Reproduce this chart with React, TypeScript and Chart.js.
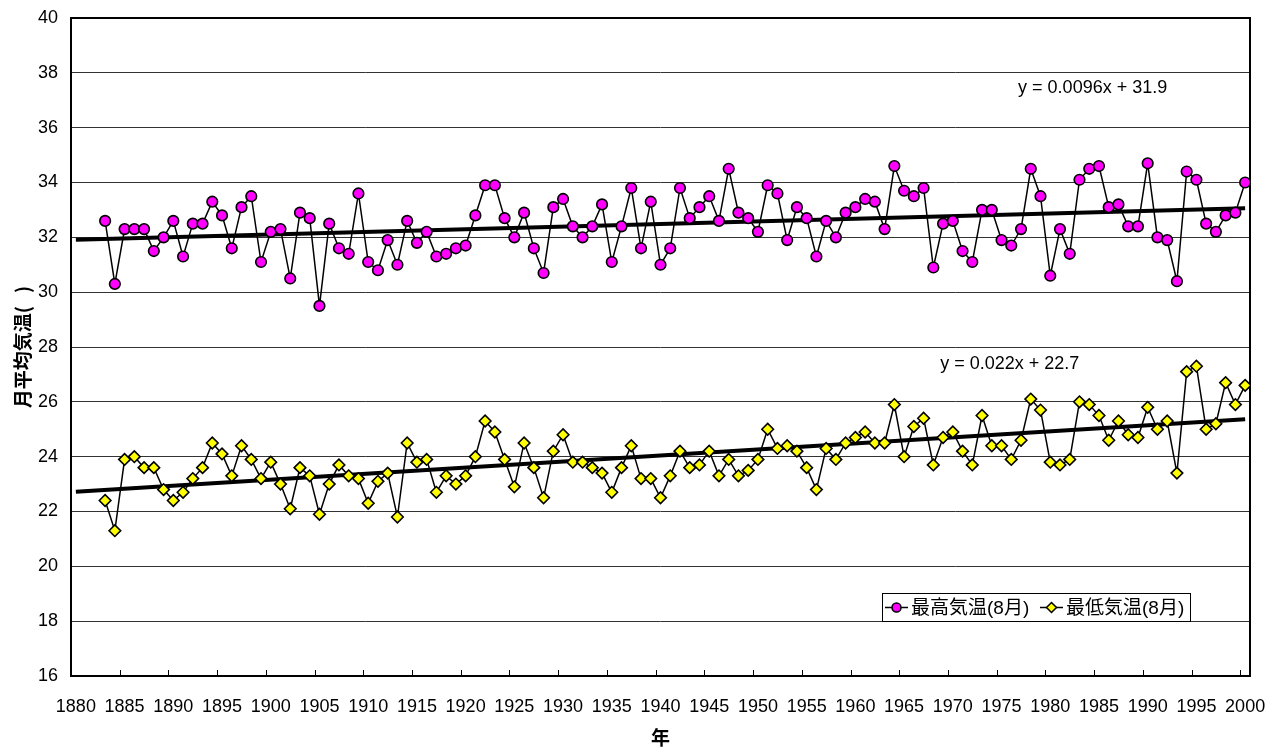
import React, { useEffect, useRef } from "react";
import { Chart, registerables } from "chart.js";

Chart.register(...registerables);

const years = [
  1883, 1884, 1885, 1886, 1887, 1888, 1889, 1890, 1891, 1892, 1893, 1894, 1895, 1896, 1897, 1898, 1899, 1900,
  1901, 1902, 1903, 1904, 1905, 1906, 1907, 1908, 1909, 1910, 1911, 1912, 1913, 1914, 1915, 1916, 1917, 1918,
  1919, 1920, 1921, 1922, 1923, 1924, 1925, 1926, 1927, 1928, 1929, 1930, 1931, 1932, 1933, 1934, 1935, 1936,
  1937, 1938, 1939, 1940, 1941, 1942, 1943, 1944, 1945, 1946, 1947, 1948, 1949, 1950, 1951, 1952, 1953, 1954,
  1955, 1956, 1957, 1958, 1959, 1960, 1961, 1962, 1963, 1964, 1965, 1966, 1967, 1968, 1969, 1970, 1971, 1972,
  1973, 1974, 1975, 1976, 1977, 1978, 1979, 1980, 1981, 1982, 1983, 1984, 1985, 1986, 1987, 1988, 1989, 1990,
  1991, 1992, 1993, 1994, 1995, 1996, 1997, 1998, 1999, 2000,
];

const maxTemp = [
  32.6, 30.3, 32.3, 32.3, 32.3, 31.5, 32.0, 32.6, 31.3, 32.5, 32.5, 33.3, 32.8, 31.6, 33.1, 33.5, 31.1, 32.2,
  32.3, 30.5, 32.9, 32.7, 29.5, 32.5, 31.6, 31.4, 33.6, 31.1, 30.8, 31.9, 31.0, 32.6, 31.8, 32.2, 31.3, 31.4,
  31.6, 31.7, 32.8, 33.9, 33.9, 32.7, 32.0, 32.9, 31.6, 30.7, 33.1, 33.4, 32.4, 32.0, 32.4, 33.2, 31.1, 32.4,
  33.8, 31.6, 33.3, 31.0, 31.6, 33.8, 32.7, 33.1, 33.5, 32.6, 34.5, 32.9, 32.7, 32.2, 33.9, 33.6, 31.9, 33.1,
  32.7, 31.3, 32.6, 32.0, 32.9, 33.1, 33.4, 33.3, 32.3, 34.6, 33.7, 33.5, 33.8, 30.9, 32.5, 32.6, 31.5, 31.1,
  33.0, 33.0, 31.9, 31.7, 32.3, 34.5, 33.5, 30.6, 32.3, 31.4, 34.1, 34.5, 34.6, 33.1, 33.2, 32.4, 32.4, 34.7,
  32.0, 31.9, 30.4, 34.4, 34.1, 32.5, 32.2, 32.8, 32.9, 34.0,
];

const minTemp = [
  22.4, 21.3, 23.9, 24.0, 23.6, 23.6, 22.8, 22.4, 22.7, 23.2, 23.6, 24.5, 24.1, 23.3, 24.4, 23.9, 23.2, 23.8,
  23.0, 22.1, 23.6, 23.3, 21.9, 23.0, 23.7, 23.3, 23.2, 22.3, 23.1, 23.4, 21.8, 24.5, 23.8, 23.9, 22.7, 23.3,
  23.0, 23.3, 24.0, 25.3, 24.9, 23.9, 22.9, 24.5, 23.6, 22.5, 24.2, 24.8, 23.8, 23.8, 23.6, 23.4, 22.7, 23.6,
  24.4, 23.2, 23.2, 22.5, 23.3, 24.2, 23.6, 23.7, 24.2, 23.3, 23.9, 23.3, 23.5, 23.9, 25.0, 24.3, 24.4, 24.2,
  23.6, 22.8, 24.3, 23.9, 24.5, 24.7, 24.9, 24.5, 24.5, 25.9, 24.0, 25.1, 25.4, 23.7, 24.7, 24.9, 24.2, 23.7,
  25.5, 24.4, 24.4, 23.9, 24.6, 26.1, 25.7, 23.8, 23.7, 23.9, 26.0, 25.9, 25.5, 24.6, 25.3, 24.8, 24.7, 25.8,
  25.0, 25.3, 23.4, 27.1, 27.3, 25.0, 25.2, 26.7, 25.9, 26.6,
];

const xTickYears = [
  1880, 1885, 1890, 1895, 1900, 1905, 1910, 1915, 1920, 1925, 1930, 1935, 1940, 1945, 1950, 1955, 1960, 1965,
  1970, 1975, 1980, 1985, 1990, 1995, 2000,
];

const seriesNames = ["最高気温(8月)", "最低気温(8月)"];
const trendMax = { slope: 0.0096, intercept: 31.9, text: "y = 0.0096x + 31.9", atYear: 1976.7, atValue: 37.45 };
const trendMin = { slope: 0.022, intercept: 22.7, text: "y = 0.022x + 22.7", atYear: 1968.7, atValue: 27.38 };
const firstCategoryYear = 1880;
const lastCategoryYear = 2000;
const yAxisTitle = "月平均気温(   )";
const xAxisTitle = "年";

const FONT = "'Liberation Sans', Arial, 'Noto Sans CJK JP', sans-serif";

function trendPoints(t: { slope: number; intercept: number }) {
  const n = lastCategoryYear - firstCategoryYear + 1;
  return [
    { x: firstCategoryYear, y: t.intercept + t.slope * 1 },
    { x: lastCategoryYear, y: t.intercept + t.slope * n },
  ];
}

const decorPlugin = {
  id: "decor",
  beforeDatasetsDraw(chart: any) {
    const { ctx, chartArea, scales } = chart;
    const { left, right, top, bottom } = chartArea;
    ctx.save();
    ctx.strokeStyle = "#000";
    ctx.lineWidth = 1;
    for (let i = 1; i < xTickYears.length; i++) {
      const px = Math.round(scales.x.getPixelForValue(xTickYears[i] - 0.5)) + 0.5;
      ctx.beginPath();
      ctx.moveTo(px, bottom);
      ctx.lineTo(px, bottom - 6);
      ctx.stroke();
    }
    ctx.lineWidth = 2;
    ctx.strokeRect(left, top, right - left, bottom - top);
    ctx.restore();
  },
  afterDatasetsDraw(chart: any) {
    const { ctx, scales } = chart;
    ctx.save();
    ctx.fillStyle = "#000";
    ctx.font = `18px ${FONT}`;
    ctx.textAlign = "left";
    ctx.textBaseline = "middle";
    for (const t of [trendMax, trendMin]) {
      ctx.fillText(t.text, scales.x.getPixelForValue(t.atYear), scales.y.getPixelForValue(t.atValue));
    }
    const lx = 882, ly = 593, lw = 308, lh = 28;
    ctx.fillStyle = "#fff";
    ctx.fillRect(lx, ly, lw, lh);
    ctx.strokeStyle = "#000";
    ctx.lineWidth = 1;
    ctx.strokeRect(lx + 0.5, ly + 0.5, lw, lh);
    const cy = ly + lh / 2 + 0.5;
    const items = [
      { x: lx + 3, name: seriesNames[0], style: "circle", color: "#FF00FF" },
      { x: lx + 158, name: seriesNames[1], style: "diamond", color: "#FFFF00" },
    ];
    ctx.font = `19px ${FONT}`;
    for (const it of items) {
      ctx.strokeStyle = "#000";
      ctx.lineWidth = 1.5;
      ctx.beginPath();
      ctx.moveTo(it.x, cy);
      ctx.lineTo(it.x + 23, cy);
      ctx.stroke();
      const mx = it.x + 11.5;
      ctx.beginPath();
      if (it.style === "circle") {
        ctx.arc(mx, cy, 4.5, 0, Math.PI * 2);
      } else {
        ctx.moveTo(mx, cy - 5);
        ctx.lineTo(mx + 5, cy);
        ctx.lineTo(mx, cy + 5);
        ctx.lineTo(mx - 5, cy);
        ctx.closePath();
      }
      ctx.fillStyle = it.color;
      ctx.fill();
      ctx.stroke();
      ctx.fillStyle = "#000";
      ctx.textAlign = "left";
      ctx.textBaseline = "middle";
      ctx.fillText(it.name, it.x + 26, cy + 1);
    }
    ctx.restore();
  },
};

export default function App() {
  const canvasRef = useRef<HTMLCanvasElement | null>(null);

  useEffect(() => {
    if (!canvasRef.current) return;
    const chart = new Chart(canvasRef.current, {
      type: "line",
      data: {
        datasets: [
          {
            label: seriesNames[0],
            data: years.map((y, i) => ({ x: y, y: maxTemp[i] })),
            borderColor: "#000",
            borderWidth: 1.5,
            backgroundColor: "#FF00FF",
            pointStyle: "circle",
            pointRadius: 5.3,
            pointBorderWidth: 1.6,
            pointBorderColor: "#000",
            pointBackgroundColor: "#FF00FF",
            order: 1,
          },
          {
            label: seriesNames[1],
            data: years.map((y, i) => ({ x: y, y: minTemp[i] })),
            borderColor: "#000",
            borderWidth: 1.5,
            backgroundColor: "#FFFF00",
            pointStyle: "rectRot",
            pointRadius: 5.8,
            pointBorderWidth: 1.6,
            pointBorderColor: "#000",
            pointBackgroundColor: "#FFFF00",
            order: 1,
          },
          {
            label: "trendMax",
            data: trendPoints(trendMax),
            borderColor: "#000",
            borderWidth: 4,
            pointRadius: 0,
            order: 2,
          },
          {
            label: "trendMin",
            data: trendPoints(trendMin),
            borderColor: "#000",
            borderWidth: 4,
            pointRadius: 0,
            order: 2,
          },
        ],
      },
      options: {
        animation: false,
        responsive: false,
        maintainAspectRatio: false,
        events: [],
        layout: { padding: { left: 0, top: 18, right: 36, bottom: 0 } },
        plugins: {
          legend: { display: false },
          tooltip: { enabled: false },
          title: { display: false },
        },
        scales: {
          x: {
            type: "linear",
            min: firstCategoryYear - 0.5,
            max: lastCategoryYear + 0.5,
            afterBuildTicks: (scale: any) => {
              scale.ticks = xTickYears.map((v) => ({ value: v }));
            },
            afterFit: (scale: any) => {
              scale.height = 76;
            },
            grid: { display: false, drawTicks: false },
            border: { display: false },
            ticks: {
              autoSkip: false,
              maxRotation: 0,
              padding: 20,
              color: "#000",
              font: { family: FONT, size: 18 },
              callback: (v: any) => String(v),
            },
            title: {
              display: true,
              text: xAxisTitle,
              color: "#000",
              font: { family: "'Noto Sans CJK JP', sans-serif", size: 19, weight: "bold" },
              padding: { top: 0, bottom: 3 },
            },
          },
          y: {
            type: "linear",
            min: 16,
            max: 40,
            afterFit: (scale: any) => {
              scale.width = 71;
              scale.paddingTop = 0;
              scale.paddingBottom = 0;
            },
            grid: { color: "#333", lineWidth: 1, drawTicks: false },
            border: { display: false },
            ticks: {
              stepSize: 2,
              padding: 13,
              color: "#000",
              font: { family: FONT, size: 18 },
            },
            title: {
              display: true,
              text: yAxisTitle,
              color: "#000",
              font: { family: "'Noto Sans CJK JP', sans-serif", size: 19, weight: "bold" },
              padding: { top: 11, bottom: 0 },
            },
          },
        },
      },
      plugins: [decorPlugin],
    } as any);
    return () => chart.destroy();
  }, []);

  return (
    <div style={{ position: "fixed", left: 0, top: 0, width: 1286, height: 752, background: "#fff" }}>
      <canvas ref={canvasRef} width={1286} height={752} style={{ display: "block" }} />
    </div>
  );
}
